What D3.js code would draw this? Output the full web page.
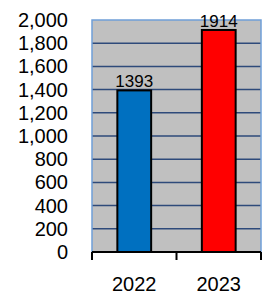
<!DOCTYPE html>
<html>
<head>
<meta charset="utf-8">
<script src="https://cdn.jsdelivr.net/npm/d3@7"></script>
<style>
  body { margin: 0; background: #fff; }
</style>
</head>
<body>
<div id="chart"></div>
<script>
const categories = ["2022", "2023"];
const values = [1393, 1914];
const barColors = ["#0070c0", "#ff0000"];
const yTicks = [0, 200, 400, 600, 800, 1000, 1200, 1400, 1600, 1800, 2000];

const w = 263;
const h = 298;
const margin = { top: 20, right: 2, bottom: 46, left: 92 };
const font = "'Liberation Sans', Arial, sans-serif";

const svg = d3.select("#chart")
  .append("svg")
  .attr("width", w)
  .attr("height", h);

const x = d3.scaleBand()
  .domain(categories)
  .range([margin.left, w - margin.right])
  .paddingInner(0.6)
  .paddingOuter(0.3);

const y = d3.scaleLinear()
  .domain([0, 2000])
  .range([h - margin.bottom, margin.top]);

// plot background
svg.append("rect")
  .attr("x", margin.left)
  .attr("y", margin.top)
  .attr("width", w - margin.right - margin.left)
  .attr("height", y(0) - margin.top)
  .attr("fill", "#c0c0c0");

// gridlines
svg.append("g")
  .selectAll("line")
  .data(yTicks.filter(d => d > 0 && d < 2000))
  .enter()
  .append("line")
  .attr("x1", margin.left)
  .attr("x2", w - margin.right)
  .attr("y1", d => y(d))
  .attr("y2", d => y(d))
  .attr("stroke", "#2e4a7a")
  .attr("stroke-width", 1.5);

// plot border (left, top, right)
svg.append("path")
  .attr("d", `M${margin.left},${y(0)}V${margin.top}H${w - margin.right}V${y(0)}`)
  .attr("fill", "none")
  .attr("stroke", "#6f9fd8")
  .attr("stroke-width", 1.5);

// bars
svg.append("g")
  .selectAll("rect")
  .data(values)
  .enter()
  .append("rect")
  .attr("x", (d, i) => x(categories[i]))
  .attr("y", d => y(d))
  .attr("width", x.bandwidth())
  .attr("height", d => y(0) - y(d))
  .attr("fill", (d, i) => barColors[i])
  .attr("stroke", "#000")
  .attr("stroke-width", 2);

// value labels
svg.append("g")
  .selectAll("text")
  .data(values)
  .enter()
  .append("text")
  .text(d => d)
  .attr("x", (d, i) => x(categories[i]) + x.bandwidth() / 2)
  .attr("y", d => y(d) - 3)
  .attr("text-anchor", "middle")
  .attr("font-family", font)
  .attr("font-size", 17)
  .attr("fill", "#000");

// y axis labels
const yAxis = svg.append("g")
  .attr("transform", `translate(${margin.left},0)`)
  .call(d3.axisLeft(y).tickValues(yTicks).tickFormat(d3.format(",")).tickSize(0).tickPadding(24));
yAxis.select(".domain").remove();
yAxis.selectAll("text")
  .attr("font-family", font)
  .attr("font-size", 20)
  .attr("fill", "#000");

// x axis
const xTickPos = [margin.left, (margin.left + w - margin.right) / 2, w - margin.right];
const xAxis = svg.append("g");
xAxis.append("line")
  .attr("x1", margin.left)
  .attr("x2", w - margin.right)
  .attr("y1", y(0))
  .attr("y2", y(0))
  .attr("stroke", "#000")
  .attr("stroke-width", 2);
xAxis.selectAll(".tick")
  .data(xTickPos)
  .enter()
  .append("line")
  .attr("x1", d => d)
  .attr("x2", d => d)
  .attr("y1", y(0))
  .attr("y2", y(0) + 8)
  .attr("stroke", "#000")
  .attr("stroke-width", 2);
xAxis.selectAll("text")
  .data(categories)
  .enter()
  .append("text")
  .text(d => d)
  .attr("x", d => x(d) + x.bandwidth() / 2)
  .attr("y", 291)
  .attr("text-anchor", "middle")
  .attr("font-family", font)
  .attr("font-size", 20)
  .attr("fill", "#000");
</script>
</body>
</html>
